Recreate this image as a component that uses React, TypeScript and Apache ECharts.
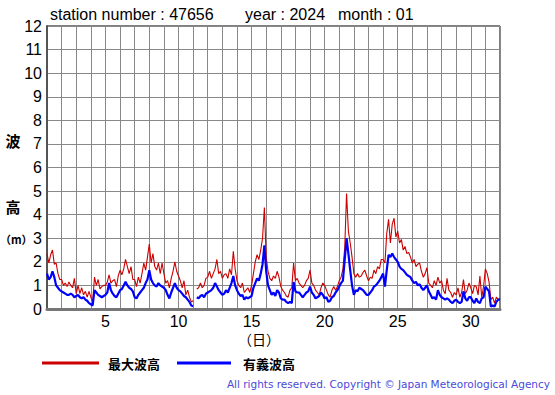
import React, { useEffect, useRef } from "react";
import * as echarts from "echarts";

const pointsPerDay = 8;
const startDay = 1;

// 最大波高 (m), 3-hourly from Jan 1 00h
const maxWave: (number | null)[] = [
  2.35, 1.95, 2.3, 2.5, 1.9, 1.95, 1.5, 1.25,
  1.25, 1.0, 1.1, 0.95, 1.15, 1.0, 0.9, 1.3,
  0.65, 1.0, 0.65, 0.9, 0.6, 0.75, 0.5, 0.75,
  0.5, 0.3, 1.35, 1.0, 1.25, 0.85, 0.95, 1.0,
  1.0, 1.15, 1.45, 1.1, 1.2, 1.25, 0.95, 1.4,
  1.65, 1.45, 1.7, 2.1, 1.8, 1.5, 1.8, 1.25,
  1.25, 0.95, 1.35, 1.1, 1.5, 1.95, 1.65, 2.2,
  2.75, 1.95, 2.35, 1.8, 1.65, 1.95, 1.5, 1.95,
  1.5, 1.1, 1.2, 0.9, 1.3, 1.6, 2.0, 1.6,
  1.4, 1.2, 0.9, 1.2, 0.6, 0.8, 0.5, 0.3,
  0.35, null, 0.85, 0.9, 1.1, 0.9, 1.0, 1.3,
  1.35, 1.6, 1.3, 1.5, 1.7, 2.1, 1.5, 1.6,
  1.3, 1.45, 1.5, 1.3, 1.7, 1.45, 2.45, 1.7,
  1.2, 1.0, 0.9, 1.1, 0.7, 0.8, 0.9, 0.7,
  1.0, 1.5, 2.0, 2.3, 2.1, 2.5, 3.0, 4.3,
  2.2, 1.6, 1.3, 1.2, 1.4, 1.3, 1.6, 1.35,
  0.95, 0.8, 0.7, 0.55, 0.5, 0.8, 0.9, 1.95,
  1.2, 1.3, 1.1, 1.0, 0.9, 1.0, 1.2, 1.3,
  1.65, 1.1, 1.0, 0.8, 0.7, 0.6, 0.9, 1.1,
  1.0, 0.8, 0.6, 0.5, 0.8, 0.95, 0.8, 0.95,
  1.2, 1.35, 1.7, 2.6, 4.9, 3.3, 2.8, 2.2,
  1.5, 1.35, 1.5, 1.35, 1.4, 1.55, 1.65, 1.4,
  1.2, 1.35, 1.3, 1.65, 1.5, 1.8, 1.7, 2.1,
  2.1, 1.95, 3.2, 3.8, 2.8, 3.6, 3.85, 3.05,
  3.3, 2.8, 2.95, 2.5, 2.65, 2.35, 2.4, 2.2,
  1.95, 2.1, 1.8, 1.9, 1.95, 1.6, 1.35, 1.5,
  1.75, 1.1, 1.0, 0.9, 1.2, 1.0, 1.35, 1.1,
  1.2, 0.8, 0.65, 1.3, 0.8, 0.7, 0.5, 0.7,
  0.6, 0.9, 0.5, 0.7, 1.25, 0.65, 0.8, 1.1,
  0.9, 0.65, 1.0, 0.95, 0.6, 1.4, 0.5, 0.95,
  1.7, 1.5, 1.15, 0.4, 0.5, 0.25, 0.5, 0.4,
  0.45,
];

// 有義波高 (m)
const sigWave: (number | null)[] = [
  1.5, 1.25, 1.35, 1.6, 1.35, 1.0, 0.9, 0.8,
  0.75, 0.7, 0.65, 0.6, 0.6, 0.65, 0.6, 0.5,
  0.55, 0.6, 0.5, 0.45, 0.5, 0.4, 0.35, 0.25,
  0.2, 0.15, 0.8, 0.7, 0.6, 0.55, 0.5, 0.55,
  0.6, 0.7, 1.1, 0.8, 0.65, 0.55, 0.5, 0.65,
  0.8, 0.85, 1.0, 1.15, 1.0, 0.9, 0.85, 0.75,
  0.5, 0.45, 0.6, 0.7, 0.8, 0.9, 1.1, 1.25,
  1.65, 1.25, 1.1, 1.0, 0.95, 1.1, 1.0, 0.95,
  0.9, 0.8, 0.6, 0.45, 0.7, 0.9, 1.1, 0.9,
  0.8, 0.75, 0.65, 0.55, 0.5, 0.4, 0.3, 0.15,
  0.12, null, 0.5, 0.45, 0.55, 0.6, 0.5, 0.65,
  0.7, 0.75, 0.8, 0.9, 1.1, 0.95, 0.8, 0.7,
  0.6, 0.65, 0.8, 0.7, 0.9, 1.1, 1.4, 1.0,
  0.8, 0.65, 0.55, 0.6, 0.4, 0.5, 0.45, 0.5,
  0.55, 0.9, 1.1, 1.3, 1.2, 1.5, 1.9, 2.7,
  1.6, 1.0, 0.8, 0.6, 0.7, 0.55, 0.8, 0.7,
  0.45, 0.4, 0.4, 0.3, 0.25, 0.3, 0.25, 1.15,
  0.75, 0.7, 0.7, 0.6, 0.5, 0.6, 0.7, 0.75,
  0.95, 0.7, 0.6, 0.45, 0.5, 0.55, 0.7, 0.6,
  0.45, 0.5, 0.3, 0.35, 0.5, 0.55, 0.7, 0.8,
  0.95, 1.1, 1.2, 2.1, 3.0, 2.35, 1.65, 1.0,
  0.6, 0.8, 0.75, 0.9, 0.85, 0.8, 0.7, 0.6,
  0.6, 0.7, 0.8, 0.95, 1.0, 1.1, 1.2, 1.35,
  1.5, 0.95, 1.65, 2.3, 2.2, 2.35, 2.2, 2.1,
  2.0, 1.8, 1.7, 1.65, 1.55, 1.45, 1.4, 1.35,
  1.2, 1.1, 1.15, 1.0, 1.05, 0.9, 0.8, 0.9,
  1.0, 0.75, 0.6, 0.45, 0.5, 0.4, 0.8, 0.6,
  0.5, 0.45, 0.4, 0.45, 0.4, 0.3, 0.25, 0.35,
  0.4, 0.3, 0.25, 0.3, 0.75, 0.45, 0.35, 0.5,
  0.5, 0.35, 0.25, 0.45, 0.3, 0.25, 0.45, 0.5,
  0.95, 0.85, 0.75, 0.1, 0.15, 0.1, 0.3, 0.4,
  0.4,
];

const xLabelDays = [5, 10, 15, 20, 25, 30];
const yTicks = [0, 1, 2, 3, 4, 5, 6, 7, 8, 9, 10, 11, 12];

const toPairs = (arr: (number | null)[]) =>
  arr.map((v, i) => [startDay + i / pointsPerDay, v]);

const FONT = "'Liberation Sans', Arial, sans-serif";
const CJK = "'Noto Sans CJK JP', sans-serif";

export default function App() {
  const ref = useRef<HTMLDivElement>(null);
  useEffect(() => {
    if (!ref.current) return;
    const chart = echarts.init(ref.current, undefined, { renderer: "svg" });
    chart.setOption({
      animation: false,
      backgroundColor: "#fff",
      grid: {
        left: 47,
        top: 26,
        width: 453,
        height: 283,
        show: true,
        borderColor: "#000",
        borderWidth: 1,
        backgroundColor: "transparent",
      },
      xAxis: {
        type: "value",
        min: 1,
        max: 32,
        interval: 1,
        axisLine: { show: true, lineStyle: { color: "#777", width: 3 } },
        axisTick: { show: false },
        splitLine: { show: true, lineStyle: { color: "#888", width: 1 } },
        axisLabel: {
          show: true,
          hideOverlap: false,
          margin: 4,
          color: "#000",
          fontSize: 16,
          fontFamily: FONT,
          formatter: (v: number) => (xLabelDays.includes(v) ? String(v) : ""),
        },
      },
      yAxis: {
        type: "value",
        min: yTicks[0],
        max: yTicks[yTicks.length - 1],
        interval: 1,
        axisLine: { show: true, lineStyle: { color: "#555", width: 2 } },
        axisTick: { show: false },
        splitLine: { show: true, lineStyle: { color: "#888", width: 1 } },
        axisLabel: {
          margin: 5,
          color: "#000",
          fontSize: 16,
          fontFamily: FONT,
        },
      },
      series: [
        {
          name: "最大波高",
          type: "line",
          data: toPairs(maxWave),
          showSymbol: false,
          connectNulls: false,
          lineStyle: { color: "#cc0000", width: 1.1 },
          itemStyle: { color: "#cc0000" },
          z: 3,
        },
        {
          name: "有義波高",
          type: "line",
          data: toPairs(sigWave),
          showSymbol: false,
          connectNulls: false,
          lineStyle: { color: "#0000ff", width: 2.2 },
          itemStyle: { color: "#0000ff" },
          z: 4,
        },
      ],
      graphic: [
        { type: "text", left: 50, top: 6, style: { text: "station number : 47656", font: `16px ${FONT}`, fill: "#000" } },
        { type: "text", left: 245, top: 6, style: { text: "year : 2024", font: `16px ${FONT}`, fill: "#000" } },
        { type: "text", left: 338, top: 6, style: { text: "month : 01", font: `16px ${FONT}`, fill: "#000" } },
        { type: "text", x: 13, y: 140, style: { text: "波", font: `bold 15px ${CJK}`, fill: "#000", align: "center", verticalAlign: "middle" } },
        { type: "text", x: 13, y: 206, style: { text: "高", font: `bold 15px ${CJK}`, fill: "#000", align: "center", verticalAlign: "middle" } },
        { type: "text", x: 0, y: 239, style: { text: "（m）", font: `bold 11px ${CJK}`, fill: "#000", align: "left", verticalAlign: "middle" } },
        { type: "text", x: 259, y: 339, style: { text: "（日）", font: `14px ${CJK}`, fill: "#000", align: "center", verticalAlign: "middle" } },
        { type: "line", shape: { x1: 42, y1: 363, x2: 99, y2: 363 }, style: { stroke: "#cc0000", lineWidth: 3 } },
        { type: "text", x: 108, y: 363, style: { text: "最大波高", font: `bold 13px ${CJK}`, fill: "#000", verticalAlign: "middle" } },
        { type: "line", shape: { x1: 177, y1: 363, x2: 231, y2: 363 }, style: { stroke: "#0000ff", lineWidth: 3 } },
        { type: "text", x: 243, y: 363, style: { text: "有義波高", font: `bold 13px ${CJK}`, fill: "#000", verticalAlign: "middle" } },
        { type: "text", x: 550, y: 384, style: { text: "All rights reserved. Copyright © Japan Meteorological Agency", font: `10.5px 'DejaVu Sans', sans-serif`, fill: "#4a4ad8", align: "right", verticalAlign: "middle" } },
      ],
    });
    return () => chart.dispose();
  }, []);
  return (
    <div
      ref={ref}
      style={{ position: "absolute", left: 0, top: 0, width: 555, height: 395 }}
    />
  );
}
